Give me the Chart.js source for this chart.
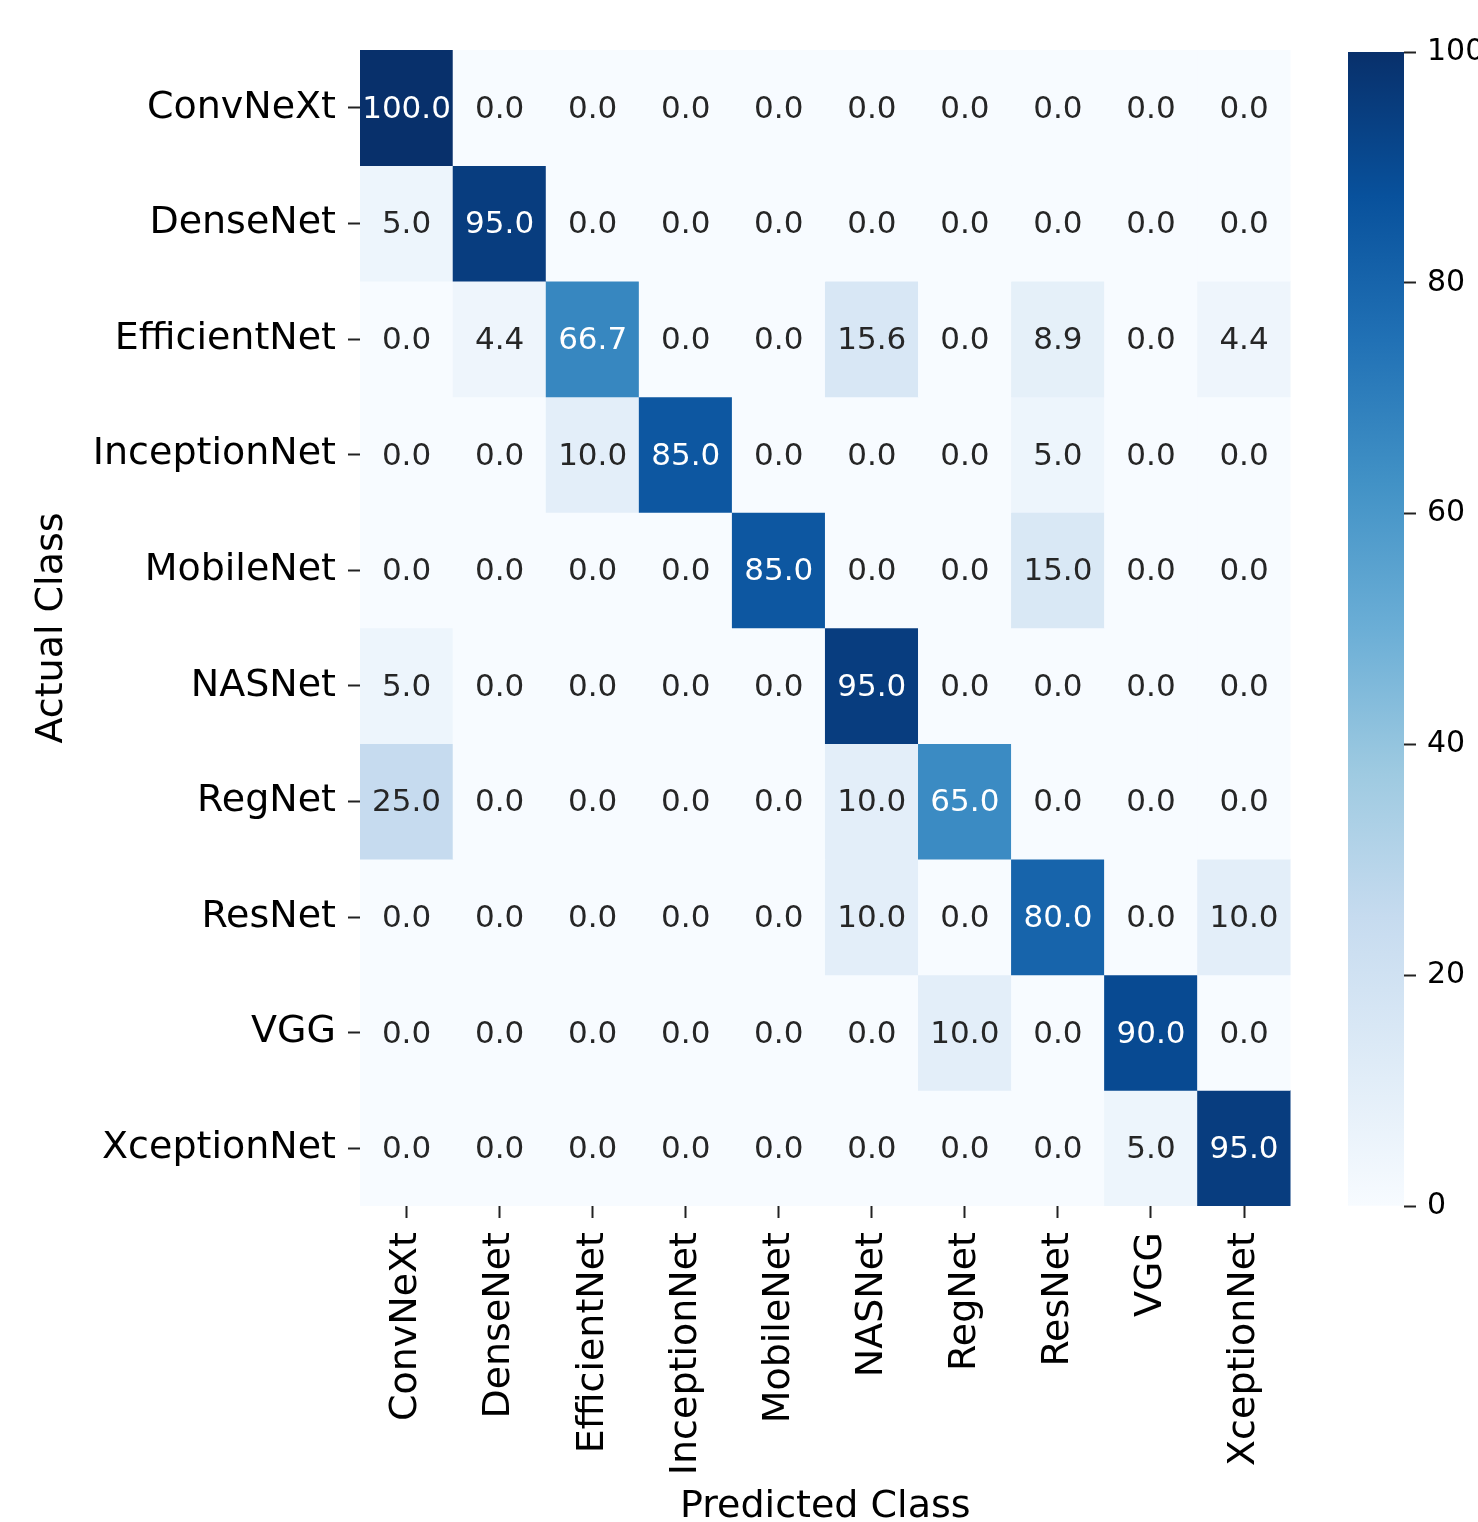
<!DOCTYPE html>
<html>
<head>
<meta charset="utf-8">
<script src="https://cdn.jsdelivr.net/npm/chart.js@4.4.1/dist/chart.umd.min.js"></script>
<style>
  html, body { margin: 0; padding: 0; background: #fff; }
  #wrap { position: relative; width: 1478px; height: 1522px; overflow: hidden; }
  #main { position: absolute; left: 0; top: 0; }
  #bar { position: absolute; left: 1300px; top: 0; }
</style>
</head>
<body>
<div id="wrap">
  <canvas id="main" width="1304" height="1522"></canvas>
  <canvas id="bar" width="178" height="1522"></canvas>
</div>
<script>
// class names, used for both axes
const classes = ["ConvNeXt", "DenseNet", "EfficientNet", "InceptionNet", "MobileNet",
                 "NASNet", "RegNet", "ResNet", "VGG", "XceptionNet"]

// one row per actual class, percent of predictions per predicted class
const rowConvNeXt     = [100, 0, 0, 0, 0, 0, 0, 0, 0, 0]
const rowDenseNet     = [5, 95, 0, 0, 0, 0, 0, 0, 0, 0]
const rowEfficientNet = [0, 4.4, 66.7, 0, 0, 15.6, 0, 8.9, 0, 4.4]
const rowInceptionNet = [0, 0, 10, 85, 0, 0, 0, 5, 0, 0]
const rowMobileNet    = [0, 0, 0, 0, 85, 0, 0, 15, 0, 0]
const rowNASNet       = [5, 0, 0, 0, 0, 95, 0, 0, 0, 0]
const rowRegNet       = [25, 0, 0, 0, 0, 10, 65, 0, 0, 0]
const rowResNet       = [0, 0, 0, 0, 0, 10, 0, 80, 0, 10]
const rowVGG          = [0, 0, 0, 0, 0, 0, 10, 0, 90, 0]
const rowXceptionNet  = [0, 0, 0, 0, 0, 0, 0, 0, 5, 95]

const colorbarTicks = [0, 20, 40, 60, 80, 100]

const rows = [rowConvNeXt, rowDenseNet, rowEfficientNet, rowInceptionNet, rowMobileNet,
              rowNASNet, rowRegNet, rowResNet, rowVGG, rowXceptionNet]

const FONT = "'DejaVu Sans', sans-serif"

// matplotlib "Blues"
const bluesStops = ["#f7fbff", "#deebf7", "#c6dbef", "#9ecae1", "#6baed6",
                    "#4292c6", "#2171b5", "#08519c", "#08306b"]
const hexRgb = (h) => [1, 3, 5].map((i) => parseInt(h.slice(i, i + 2), 16))

function bluesRgb(v) {
  const t = Math.max(0, Math.min(1, v / 100)) * (bluesStops.length - 1)
  const i = Math.min(Math.floor(t), bluesStops.length - 2)
  const f = t - i
  const a = hexRgb(bluesStops[i]), b = hexRgb(bluesStops[i + 1])
  return a.map((c, k) => Math.round(c + (b[k] - c) * f))
}
const blues = (v) => `rgb(${bluesRgb(v).join(",")})`

// same rule seaborn uses to pick annotation colour
function textColor(v) {
  const lin = bluesRgb(v).map((c) => {
    c /= 255
    return c <= 0.03928 ? c / 12.92 : Math.pow((c + 0.055) / 1.055, 2.4)
  })
  const lum = 0.2126 * lin[0] + 0.7152 * lin[1] + 0.0722 * lin[2]
  return lum > 0.408 ? "#262626" : "#ffffff"
}

const annotate = {
  id: "annotate",
  afterDatasetsDraw(chart) {
    const { ctx } = chart
    ctx.save()
    ctx.font = `31px ${FONT}`
    ctx.textAlign = "center"
    ctx.textBaseline = "middle"
    chart.data.datasets.forEach((ds, r) => {
      chart.getDatasetMeta(r).data.forEach((el, c) => {
        const v = rows[r][c]
        ctx.fillStyle = textColor(v)
        ctx.fillText(v.toFixed(1), el.x, (el.y + el.base) / 2 + 2)
      })
    })
    ctx.restore()
  }
}

new Chart(document.getElementById("main"), {
  type: "bar",
  data: {
    labels: classes,
    datasets: rows.map((row, r) => ({
      data: row.map(() => [r, r + 1]),
      backgroundColor: row.map(blues),
      borderWidth: 0,
      barPercentage: 1,
      categoryPercentage: 1,
      grouped: false
    }))
  },
  options: {
    responsive: false,
    devicePixelRatio: 1,
    animation: false,
    layout: { padding: { top: 50, right: 7, left: 0, bottom: 0 } },
    plugins: { legend: { display: false }, tooltip: { enabled: false } },
    scales: {
      x: {
        type: "category",
        grid: { drawOnChartArea: false, offset: false, tickLength: 12, color: "#222", tickWidth: 2 },
        border: { display: false },
        ticks: {
          font: { family: FONT, size: 38 }, color: "#000",
          minRotation: 90, maxRotation: 90, autoSkip: false, padding: 14
        },
        title: {
          display: true, text: "Predicted Class", color: "#000",
          font: { family: FONT, size: 38, lineHeight: 1.0 }, padding: { top: 0, bottom: -4 }
        },
        afterFit: (s) => { s.height = 316 }
      },
      y: {
        type: "linear", min: 0, max: 10, reverse: true,
        afterBuildTicks: (s) => { s.ticks = classes.map((_, i) => ({ value: i + 0.5 })) },
        grid: { drawOnChartArea: false, tickLength: 12, color: "#222", tickWidth: 2 },
        border: { display: false },
        ticks: {
          font: { family: FONT, size: 38 }, color: "#000", padding: 12,
          callback: (v) => classes[Math.floor(v)]
        },
        title: {
          display: true, text: "Actual Class", color: "#000",
          font: { family: FONT, size: 38, lineHeight: 1.0 }, padding: { top: 33, bottom: 0 }
        },
        afterFit: (s) => { s.width = 360 }
      }
    }
  },
  plugins: [annotate]
})

// colour bar: one floating bar 0..100 filled with the Blues ramp
new Chart(document.getElementById("bar"), {
  type: "bar",
  data: {
    labels: [""],
    datasets: [{
      data: [[0, 100]],
      borderWidth: 0,
      barPercentage: 1,
      categoryPercentage: 1,
      backgroundColor: (ctx) => {
        const area = ctx.chart.chartArea
        if (!area || !isFinite(area.top) || !isFinite(area.bottom)) return blues(50)
        const g = ctx.chart.ctx.createLinearGradient(0, area.bottom, 0, area.top)
        bluesStops.forEach((c, i) => g.addColorStop(i / (bluesStops.length - 1), c))
        return g
      }
    }]
  },
  options: {
    responsive: false,
    devicePixelRatio: 1,
    animation: false,
    layout: { padding: { top: 52, left: 48, right: 0, bottom: 316 } },
    plugins: { legend: { display: false }, tooltip: { enabled: false } },
    scales: {
      x: { display: false },
      y: {
        position: "right", min: 0, max: 100,
        afterBuildTicks: (s) => { s.ticks = colorbarTicks.map((v) => ({ value: v })) },
        grid: { drawOnChartArea: false, tickLength: 12, color: "#222", tickWidth: 2 },
        border: { display: false },
        ticks: { font: { family: FONT, size: 30 }, color: "#000", padding: 11 },
        afterFit: (s) => { s.width = 74 }
      }
    }
  }
})
</script>
</body>
</html>
